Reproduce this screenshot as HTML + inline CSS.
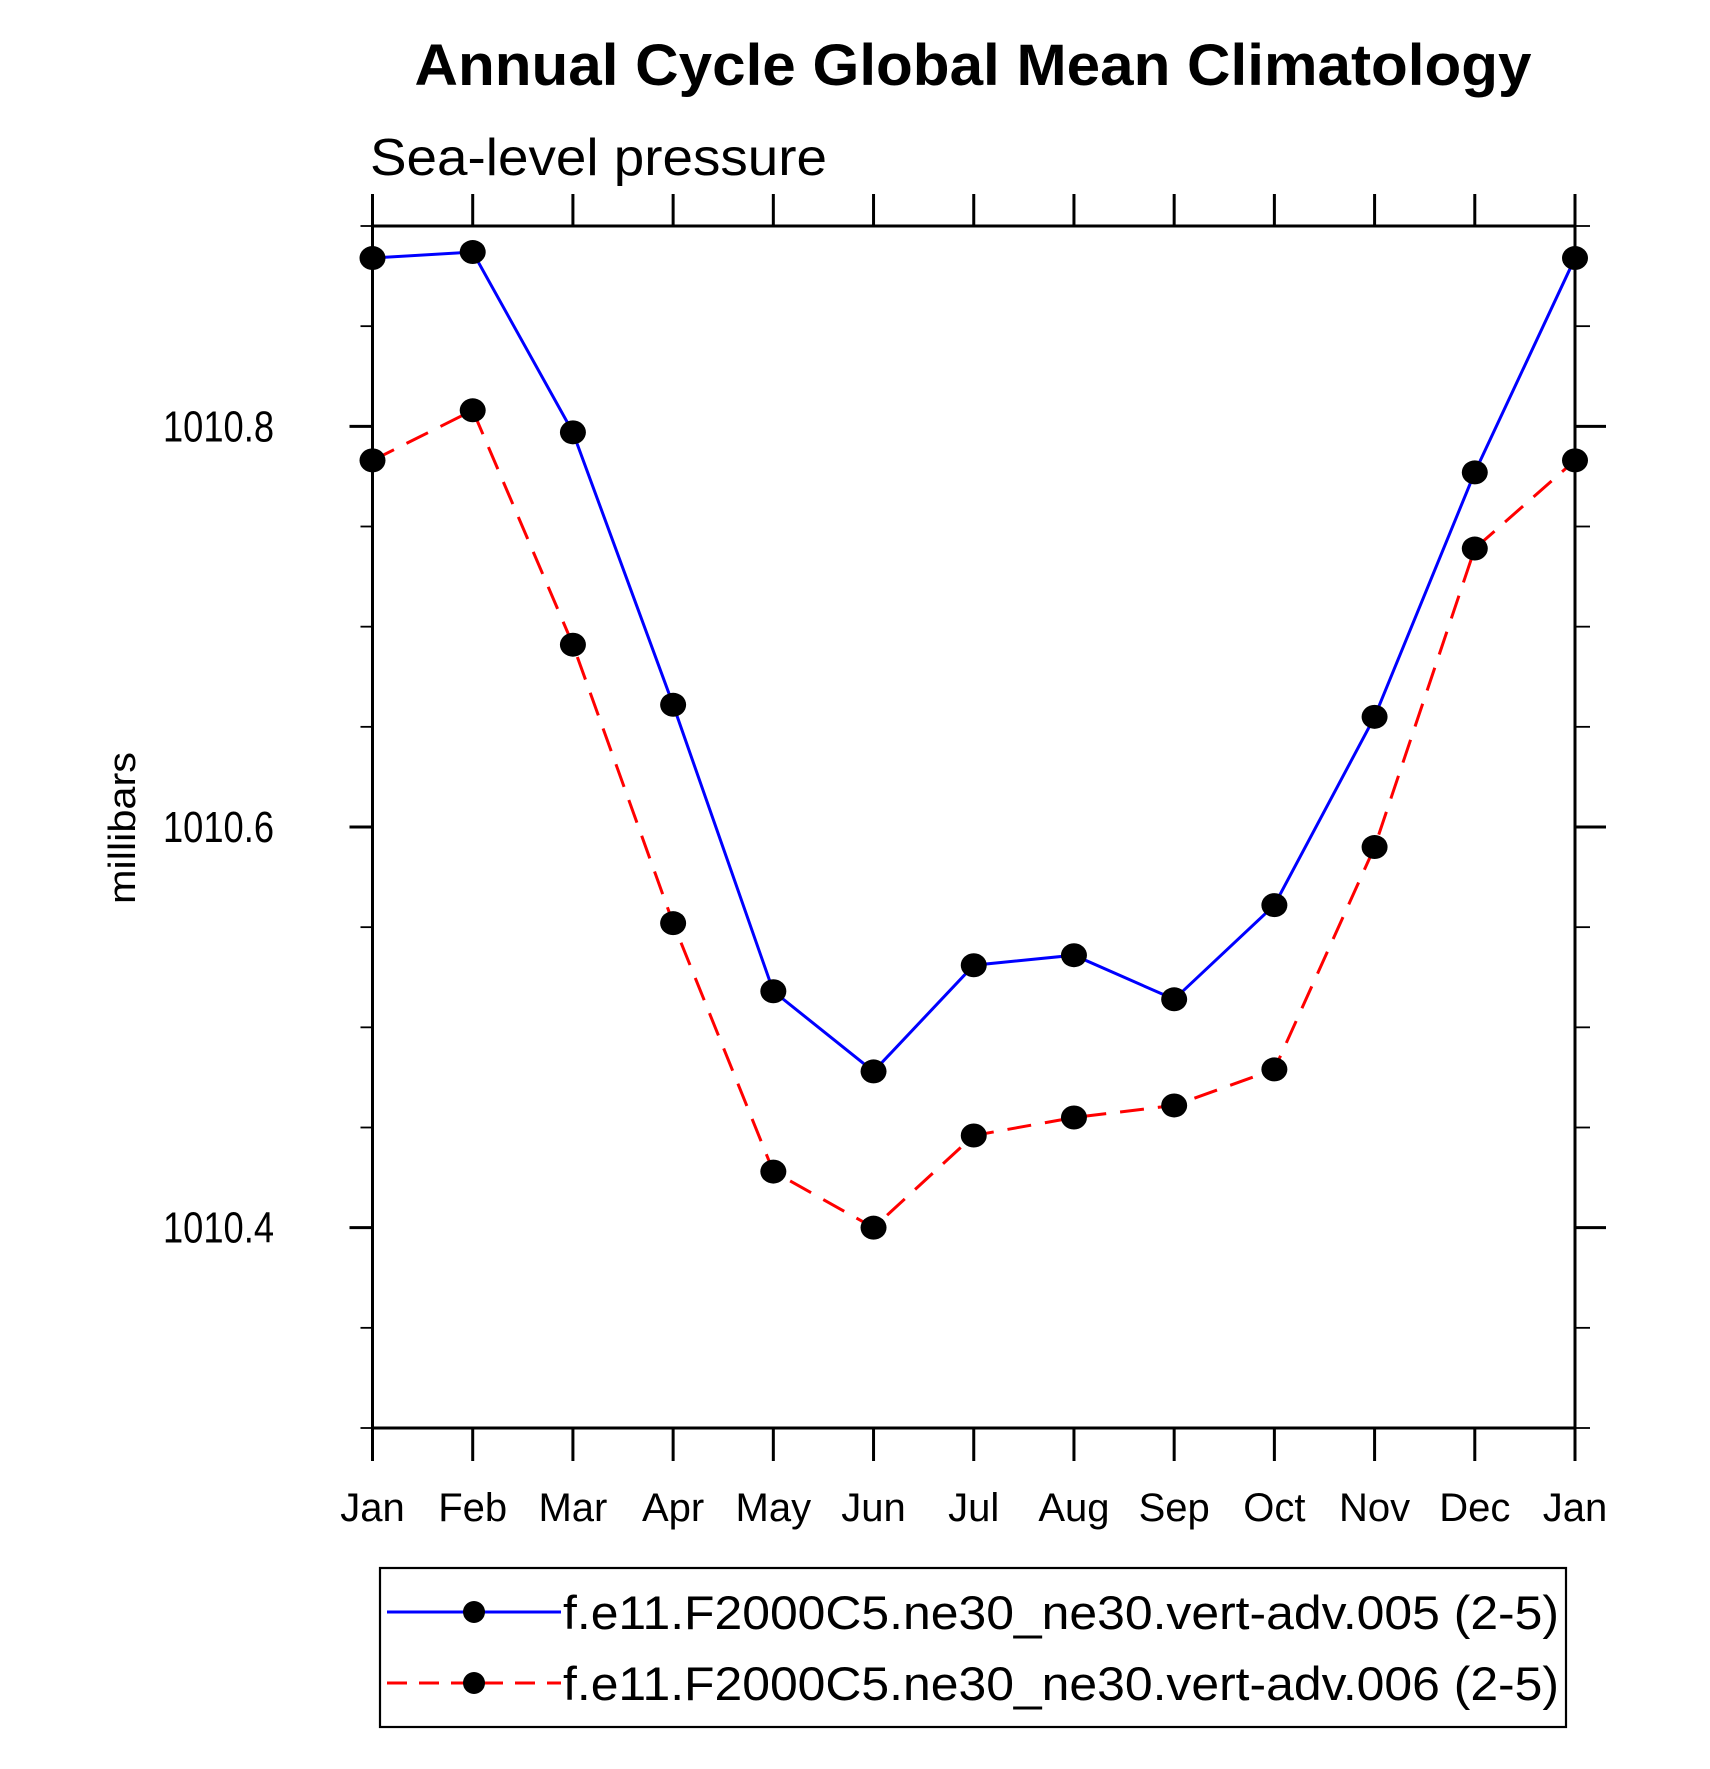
<!DOCTYPE html>
<html><head><meta charset="utf-8"><style>
html,body{margin:0;padding:0;background:#fff;}
svg{display:block;font-family:"Liberation Sans",Arial,sans-serif;}
</style></head><body>
<svg id="chart" width="1710" height="1769" viewBox="0 0 1710 1769">
<text x="973" y="85" text-anchor="middle" font-size="58" font-weight="bold" textLength="1117" lengthAdjust="spacingAndGlyphs">Annual Cycle Global Mean Climatology</text>
<text x="370" y="175" font-size="52" textLength="457" lengthAdjust="spacingAndGlyphs">Sea-level pressure</text>
<text transform="translate(135,828) rotate(-90)" text-anchor="middle" font-size="38" textLength="152" lengthAdjust="spacingAndGlyphs">millibars</text>
<g id="axes"></g>
<g id="series"></g>
<g id="legend"></g>
</svg>
<script>
const months = ["Jan","Feb","Mar","Apr","May","Jun","Jul","Aug","Sep","Oct","Nov","Dec","Jan"];
const seriesA = [1010.884,1010.887,1010.797,1010.661,1010.518,1010.478,1010.531,1010.536,1010.514,1010.561,1010.655,1010.777,1010.884];
const seriesB = [1010.783,1010.808,1010.691,1010.552,1010.428,1010.400,1010.446,1010.455,1010.461,1010.479,1010.590,1010.739,1010.783];
const yTicks = [1010.4,1010.6,1010.8];
const yTickLabels = ["1010.4","1010.6","1010.8"];
const yMinor = [1010.3,1010.35,1010.45,1010.5,1010.55,1010.65,1010.7,1010.75,1010.85,1010.9];
const legendLabels = ["f.e11.F2000C5.ne30_ne30.vert-adv.005 (2-5)","f.e11.F2000C5.ne30_ne30.vert-adv.006 (2-5)"];

const NS="http://www.w3.org/2000/svg";
const L=372.5,R=1575,T=226,B=1428,yMin=1010.3,yMax=1010.9;
const xs=i=>L+(R-L)*i/(months.length-1);
const ys=v=>B-(v-yMin)/(yMax-yMin)*(B-T);
function mk(tag,attrs,parent){const e=document.createElementNS(NS,tag);for(const k in attrs)e.setAttribute(k,attrs[k]);parent.appendChild(e);return e;}
const axes=document.getElementById('axes');
let fr=mk('rect',{x:L,y:T,width:R-L,height:B-T,fill:'none',stroke:'#000','stroke-width':3},axes);


months.forEach((m,i)=>{
  const x=xs(i);
  mk('line',{x1:x,y1:T,x2:x,y2:T-32,stroke:'#000','stroke-width':3},axes);
  mk('line',{x1:x,y1:B,x2:x,y2:B+33,stroke:'#000','stroke-width':3},axes);
  const t=mk('text',{x:x,y:1521,'text-anchor':'middle','font-size':40},axes);
  t.textContent=m;
  
  
});
yTicks.forEach((v,i)=>{
  const y=ys(v);
  mk('line',{x1:L,y1:y,x2:L-23,y2:y,stroke:'#000','stroke-width':3},axes);
  mk('line',{x1:R,y1:y,x2:R+31,y2:y,stroke:'#000','stroke-width':3},axes);
  const t=mk('text',{x:163,y:y+15,'font-size':44,textLength:111,lengthAdjust:'spacingAndGlyphs'},axes);
  t.textContent=yTickLabels[i];
  
  
});
yMinor.forEach(v=>{
  const y=ys(v);
  mk('line',{x1:L,y1:y,x2:L-12,y2:y,stroke:'#000','stroke-width':1.8},axes);
  mk('line',{x1:R,y1:y,x2:R+15,y2:y,stroke:'#000','stroke-width':1.8},axes);
});
const sg=document.getElementById('series');
function drawSeries(vals,color,dash,name){
  const pts=vals.map((v,i)=>xs(i)+','+ys(v)).join(' ');
  const pl=mk('polyline',{points:pts,fill:'none',stroke:color,'stroke-width':3,'stroke-dasharray':dash},sg);
  
  
  vals.forEach((v,i)=>{
    const c=mk('ellipse',{cx:xs(i),cy:ys(v),rx:13,ry:12,fill:'#000'},sg);
    
    
  });
}
drawSeries(seriesA,'#0000ff','none','series-005');
drawSeries(seriesB,'#ff0000','24,14','series-006');
const lg=document.getElementById('legend');
const box=mk('rect',{x:380,y:1568,width:1186,height:159,fill:'none',stroke:'#000','stroke-width':2.2},lg);


const rows=[1612,1683],cols=['#0000ff','#ff0000'],dashes=['none','20,12'];
legendLabels.forEach((lab,i)=>{
  const y=rows[i];
  mk('line',{x1:387,y1:y,x2:561,y2:y,stroke:cols[i],'stroke-width':3,'stroke-dasharray':dashes[i]},lg);
  mk('ellipse',{cx:474,cy:y,rx:11,ry:11,fill:'#000'},lg);
  const t=mk('text',{x:563,y:y+17,'font-size':47,textLength:996,lengthAdjust:'spacingAndGlyphs'},lg);
  t.textContent=lab;
  
  
});
</script>
</body></html>
